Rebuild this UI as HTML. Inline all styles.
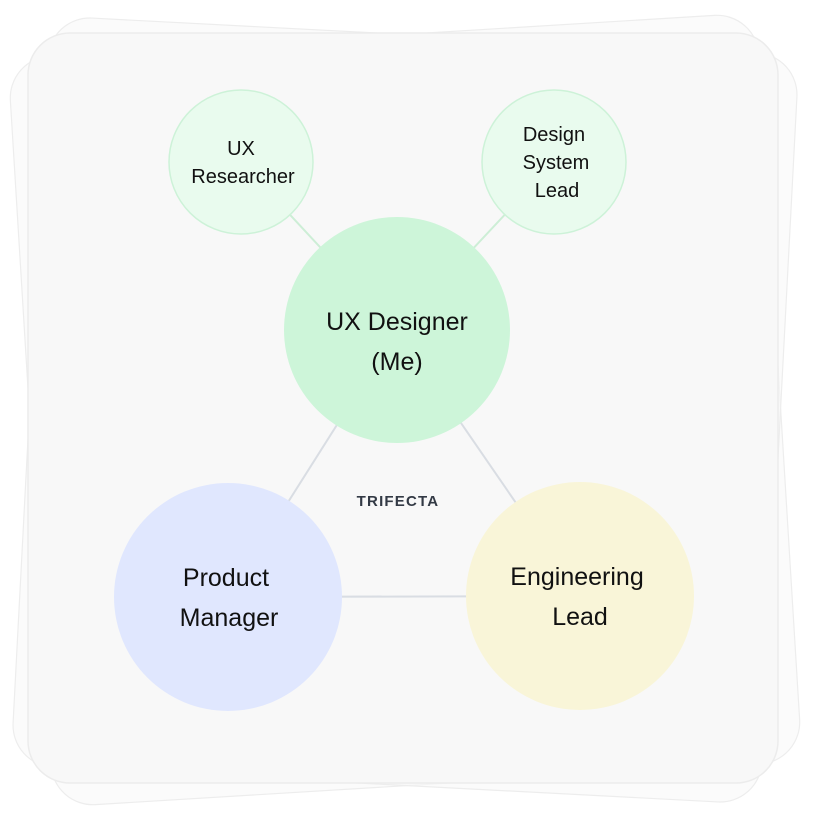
<!DOCTYPE html>
<html><head><style>
html,body{margin:0;padding:0;background:#fff;}
body{width:820px;height:820px;overflow:hidden;}
text{font-family:"Liberation Sans",sans-serif;}
</style></head><body>
<svg width="820" height="820" viewBox="0 0 820 820" xmlns="http://www.w3.org/2000/svg">
  <g fill="#f8f8f8" fill-opacity="0.6" stroke="#ededed" stroke-width="1.2">
    <rect x="30" y="35" width="750" height="750" rx="42" transform="rotate(-3.5 405 410)"/>
    <rect x="30" y="35" width="750" height="750" rx="42" transform="rotate(3 405 410)"/>
  </g>
  <rect x="28" y="33" width="750" height="750" rx="42" fill="#f8f8f8" stroke="#ececec" stroke-width="1.5"/>
  <g stroke="#d9dde3" stroke-width="2">
    <line x1="397" y1="330" x2="228" y2="597"/>
    <line x1="397" y1="330" x2="580" y2="596"/>
    <line x1="228" y1="597" x2="580" y2="596"/>
  </g>
  <g stroke="#cdeed6" stroke-width="2">
    <line x1="241" y1="162" x2="397" y2="330"/>
    <line x1="554" y1="162" x2="397" y2="330"/>
  </g>
  <circle cx="241" cy="162" r="72" fill="#e9fbee" stroke="#cdf2d8" stroke-width="1.5"/>
  <circle cx="554" cy="162" r="72" fill="#e9fbee" stroke="#cdf2d8" stroke-width="1.5"/>
  <circle cx="397" cy="330" r="113" fill="#cdf5d9"/>
  <circle cx="228" cy="597" r="114" fill="#e0e7fe"/>
  <circle cx="580" cy="596" r="114" fill="#f9f5d8"/>
  <g fill="#111" text-anchor="middle" font-size="20">
    <text x="241" y="155">UX</text>
    <text x="243" y="183">Researcher</text>
    <text x="554" y="141">Design</text>
    <text x="556" y="169">System</text>
    <text x="557" y="197">Lead</text>
  </g>
  <g fill="#111" text-anchor="middle" font-size="25">
    <text x="397" y="330">UX Designer</text>
    <text x="397" y="370">(Me)</text>
    <text x="226" y="586">Product</text>
    <text x="229" y="626">Manager</text>
    <text x="577" y="585">Engineering</text>
    <text x="580" y="625">Lead</text>
  </g>
  <text x="398" y="506" text-anchor="middle" font-size="15" font-weight="bold" fill="#333a45" letter-spacing="1.2">TRIFECTA</text>
</svg>
</body></html>
